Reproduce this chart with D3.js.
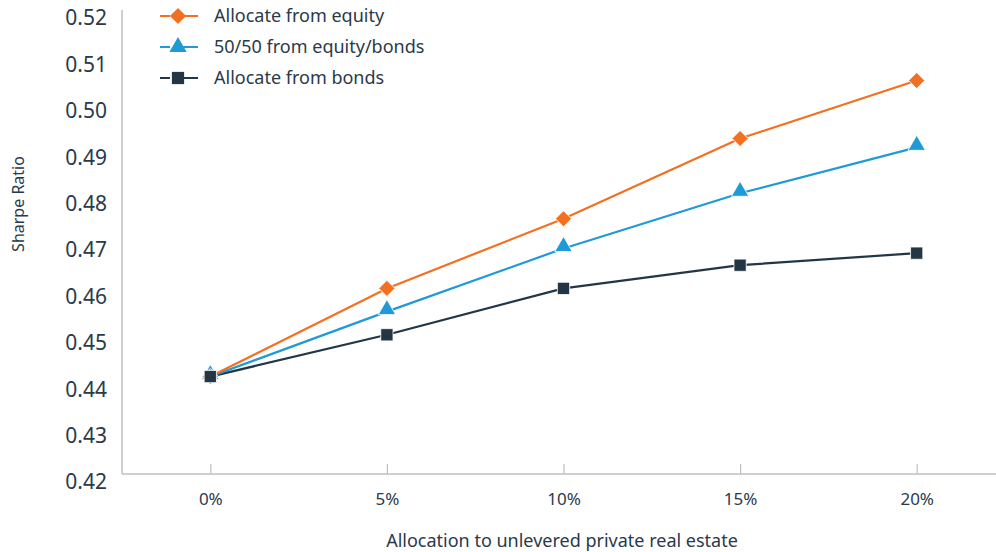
<!DOCTYPE html>
<html>
<head>
<meta charset="utf-8">
<script src="https://cdn.jsdelivr.net/npm/d3@7"></script>
<style>
  body { margin: 0; background: #fff; }
  text { font-family: "Noto Sans", "Open Sans", sans-serif; fill: #2a3a4a; }
</style>
</head>
<body>
<svg id="chart"></svg>
<script>
var categories = ["0%", "5%", "10%", "15%", "20%"];
var yTicks = [0.42, 0.43, 0.44, 0.45, 0.46, 0.47, 0.48, 0.49, 0.50, 0.51, 0.52];
var seriesNames = ["Allocate from equity", "50/50 from equity/bonds", "Allocate from bonds"];
var fromEquity = [0.441, 0.460, 0.475, 0.4923, 0.5048];
var fiftyFifty = [0.441, 0.455, 0.4686, 0.4805, 0.4904];
var fromBonds = [0.441, 0.450, 0.460, 0.465, 0.4676];

var colors = ["#f37021", "#1f9ad6", "#233646"];
var symbols = [d3.symbolSquare, d3.symbolTriangle, d3.symbolSquare];
var symSizes = [130, 130, 150];
var symRotate = [45, 0, 0];

var svgWidth = 996, svgHeight = 552;
var margin = { top: 10, right: 0, bottom: 78, left: 122 };
var height = svgHeight - margin.top - margin.bottom;

var svg = d3.select("#chart")
  .attr("width", svgWidth)
  .attr("height", svgHeight);

var x = d3.scalePoint()
  .domain(categories)
  .range([margin.left, 1005])
  .padding(0.5);

var y = d3.scaleLinear()
  .domain([0.42, 0.52])
  .range([margin.top + height, margin.top]);

// y axis line + labels
svg.append("line")
  .attr("x1", margin.left).attr("x2", margin.left)
  .attr("y1", y(0.52)).attr("y2", y(0.42))
  .attr("stroke", "#bfbfbf").attr("stroke-width", 1.5);

svg.append("g").selectAll("text")
  .data(yTicks)
  .join("text")
  .attr("x", 107)
  .attr("y", function(d) { return y(d) + 8; })
  .attr("dy", "0.35em")
  .attr("text-anchor", "end")
  .style("font-size", "21px")
  .text(function(d) { return d3.format(".2f")(d); });

// x axis
var xAxis = svg.append("g")
  .attr("transform", "translate(0," + y(0.42) + ")")
  .call(d3.axisBottom(x).tickSizeInner(-10).tickSizeOuter(0).tickPadding(19));
xAxis.attr("font-size", 17).attr("font-family", null);
xAxis.select(".domain")
  .attr("d", "M" + margin.left + ",0H" + svgWidth)
  .attr("stroke", "#bfbfbf").attr("stroke-width", 1.5);
xAxis.selectAll(".tick line").attr("stroke", "#bfbfbf").attr("stroke-width", 1.2);
xAxis.selectAll(".tick text")
  .attr("fill", "#2a3a4a");

// axis titles
svg.append("text")
  .attr("transform", "translate(24,204) rotate(-90)")
  .attr("text-anchor", "middle")
  .style("font-size", "16px")
  .text("Sharpe Ratio");

svg.append("text")
  .attr("x", 562)
  .attr("y", 547)
  .attr("text-anchor", "middle")
  .style("font-size", "18px")
  .text("Allocation to unlevered private real estate");

// series
var series = [fromEquity, fiftyFifty, fromBonds];
var line = d3.line()
  .x(function(d, i) { return x(categories[i]); })
  .y(function(d) { return y(d); });

[2, 1, 0].forEach(function(s) {
  svg.append("path")
    .datum(series[s])
    .attr("fill", "none")
    .attr("stroke", colors[s])
    .attr("stroke-width", 2.2)
    .attr("stroke-linejoin", "round")
    .attr("d", line);
});

[1, 0, 2].forEach(function(s) {
  svg.append("g").selectAll("path")
    .data(series[s])
    .join("path")
    .attr("transform", function(d, i) {
      var off = s === 1 ? 2 : 0;
      return "translate(" + x(categories[i]) + "," + (y(d) - off) + ") rotate(" + symRotate[s] + ")";
    })
    .attr("d", d3.symbol().type(symbols[s]).size(symSizes[s]))
    .attr("fill", colors[s])
    .attr("stroke", "#fff")
    .attr("stroke-width", 0.8);
});

// legend
var legend = svg.append("g");
seriesNames.forEach(function(name, i) {
  var ly = 16 + i * 31;
  legend.append("line")
    .attr("x1", 160).attr("x2", 198)
    .attr("y1", ly).attr("y2", ly)
    .attr("stroke", colors[i]).attr("stroke-width", 2)
    .attr("stroke-dasharray", "10,8,20");
  legend.append("path")
    .attr("transform", "translate(178," + ly + ") rotate(" + symRotate[i] + ")")
    .attr("d", d3.symbol().type(symbols[i]).size(symSizes[i]))
    .attr("fill", colors[i]);
  legend.append("text")
    .attr("x", 214)
    .attr("y", ly)
    .attr("dy", "0.35em")
    .style("font-size", "18px")
    .text(name);
});
</script>
</body>
</html>
